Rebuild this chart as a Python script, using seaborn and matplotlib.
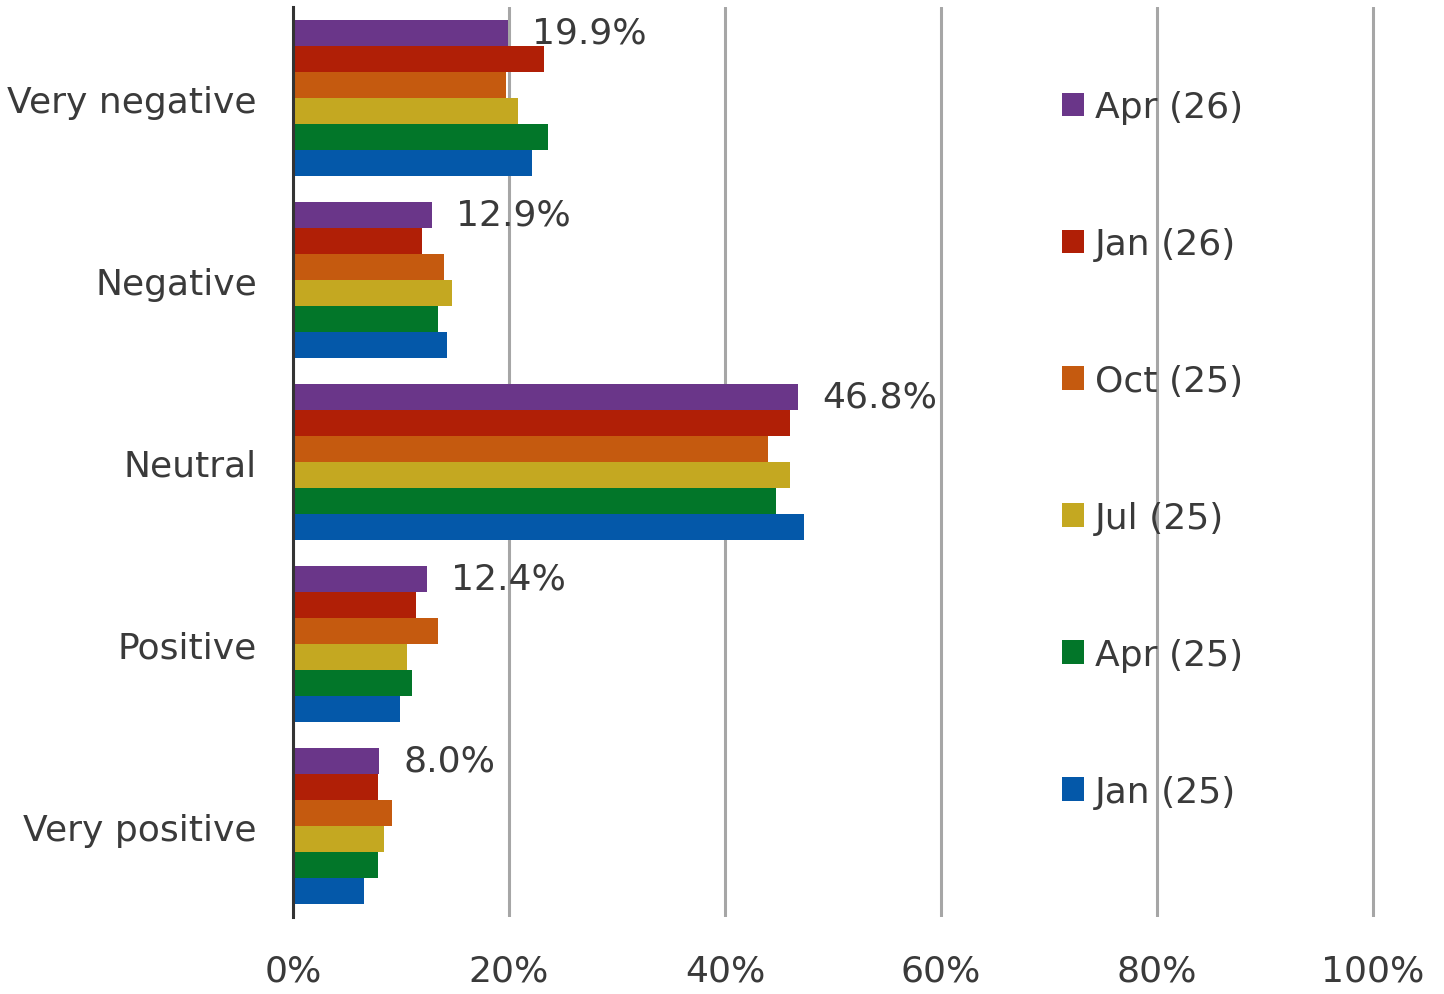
import pandas as pd
import seaborn as sns
from matplotlib import pyplot as plt

# data
categories = ['Very negative', 'Negative', 'Neutral', 'Positive', 'Very positive']
periods = ['Apr (26)', 'Jan (26)', 'Oct (25)', 'Jul (25)', 'Apr (25)', 'Jan (25)']
apr26 = [19.9, 12.9, 46.8, 12.4, 8.0]
jan26 = [23.2, 11.9, 46.0, 11.4, 7.9]
oct25 = [19.7, 14.0, 44.0, 13.4, 9.2]
jul25 = [20.8, 14.7, 46.0, 10.6, 8.4]
apr25 = [23.6, 13.4, 44.7, 11.0, 7.9]
jan25 = [22.1, 14.3, 47.3, 9.9, 6.6]
colors = ['#6A3689', '#B01F06', '#C55A0F', '#C4A821', '#027629', '#0458A9']
xticks = [0, 20, 40, 60, 80, 100]

series = [apr26, jan26, oct25, jul25, apr25, jan25]
rows = []
for p, vals in zip(periods, series):
    for c, v in zip(categories, vals):
        rows.append({'category': c, 'period': p, 'value': v})
df = pd.DataFrame(rows)

sns.set_style('white')
plt.rcParams['font.family'] = ['DejaVu Sans']
txt = '#3a3a3a'
fs = 26

fig = plt.figure(figsize=(14.44, 9.95), dpi=100)
# x range a touch past 100 so the last gridline is not clipped
ax = fig.add_axes([293 / 1444, 1 - 918 / 995, (1373 - 293) * 1.01 / 1444, (918 - 8) / 995])

sns.barplot(data=df, y='category', x='value', hue='period', order=categories,
            hue_order=periods, palette=colors, orient='h', width=6 / 7,
            linewidth=0, saturation=1, ax=ax, zorder=3)

ax.set_xlim(0, 101)
ax.set_xticks(xticks)
ax.set_xticklabels([f'{t}%' for t in xticks])
ax.set_xlabel('')
ax.set_ylabel('')
ax.grid(axis='x', color='#A6A6A6', linewidth=2.2, zorder=0)
ax.set_axisbelow(True)
for s in ['top', 'right', 'bottom']:
    ax.spines[s].set_visible(False)
ax.spines['left'].set_color('#333333')
ax.spines['left'].set_linewidth(2.2)
ax.spines['left'].set_zorder(5)
ax.tick_params(axis='x', length=0, pad=26, labelsize=fs, labelcolor=txt)
ax.tick_params(axis='y', length=0, pad=26, labelsize=fs, labelcolor=txt)

# labels only on the latest period
ax.bar_label(ax.containers[0], labels=[f'{v:.1f}%' for v in apr26],
             padding=17, fontsize=fs, color=txt)

handles, labels = ax.get_legend_handles_labels()
ax.legend(handles, labels, loc='upper left', bbox_to_anchor=(1062 / 1444, 1 - 91 / 995),
          bbox_transform=fig.transFigure, frameon=False, fontsize=fs,
          labelcolor=txt, handlelength=0.62, handleheight=0.62, handletextpad=0.3,
          labelspacing=2.85, borderpad=0, borderaxespad=0)

fig.savefig('out.png', dpi=100)
